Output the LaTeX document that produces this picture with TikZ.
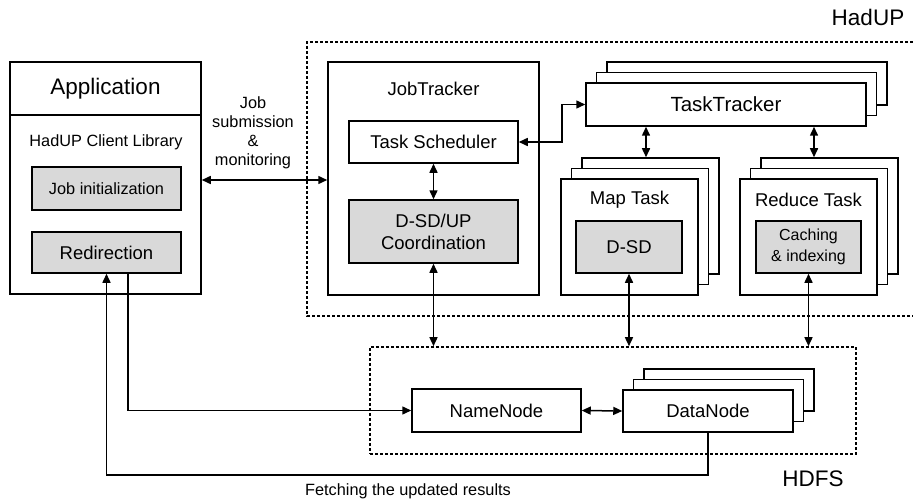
\documentclass[tikz,border=0pt]{standalone}
\usepackage{fontspec}
\setmainfont{Liberation Sans}
\usetikzlibrary{arrows.meta,shadows,calc}
\definecolor{boxgray}{RGB}{217,217,217}
\tikzset{
  box/.style 2 args={draw, line width=1.5pt, fill=white, inner sep=0pt,
    minimum width=#1, minimum height=#2, align=center},
  graybox/.style={fill=boxgray},
  stack/.style={
    general shadow={shadow xshift=21pt,shadow yshift=21pt,fill=white,draw,line width=1.5pt},
    general shadow={shadow xshift=10.5pt,shadow yshift=10.5pt,fill=white,draw,line width=1.5pt}},
  dashbox/.style={draw, line width=1.6pt, dash pattern=on 3pt off 2pt},
  conn/.style={line width=1.5pt},
  dbl/.style={conn, {Triangle[length=9pt,width=8pt]}-{Triangle[length=9pt,width=8pt]}},
  one/.style={conn, -{Triangle[length=9pt,width=8pt]}},
  fbig/.style={font=\fontsize{22.5}{26}\selectfont},
  fmid/.style={font=\fontsize{18.5}{22}\selectfont},
  fsmall/.style={font=\fontsize{16.3}{19}\selectfont},
  ftiny/.style={font=\fontsize{16.3}{19}\selectfont},
}
\begin{document}
\begin{tikzpicture}[x=1pt,y=-1pt]
\useasboundingbox (0,0) rectangle (913,500);

% dashed group frames
\draw[dashbox] (913,42) -| (307,316) -- (913,316);
\node[dashbox, inner sep=0pt, minimum width=486pt, minimum height=107pt] (hdfs) at (613,400.5) {};
\node[fbig] (hadup) at (868,17) {HadUP};
\node[fbig] (hdfslabel) at (813,479) {HDFS};

% Application
\node[box={191pt}{53pt}, fbig] (apptitle) at (105.5,88.5) {Application};
\node[box={191pt}{179pt}] (appbody) at (105.5,204.5) {};
\node[fsmall] (clientlib) at (106,142) {HadUP Client Library};
\node[box={149pt}{43pt}, graybox, fsmall] (jobinit) at (106.5,188.5) {Job initialization};
\node[box={149pt}{41pt}, graybox, fmid] (redir) at (106.5,252.5) {Redirection};

\node[fsmall, align=center] (jobsub) at (253,133) {Job\\submission\\\&\\monitoring};

% JobTracker
\node[box={211pt}{233pt}] (jobtracker) at (433.5,178.5) {};
\node[fmid] (jtlabel) at (433.5,89) {JobTracker};
\node[box={169pt}{42pt}, fmid] (sched) at (433.5,142) {Task Scheduler};
\node[box={169pt}{63pt}, graybox, fmid] (coord) at (433.5,231.5) {D-SD/UP\\Coordination};

% TaskTracker
\node[box={280pt}{43pt}, stack, font=\fontsize{20.5}{24}\selectfont] (tt) at (726,104.5) {TaskTracker};

% Map Task
\node[box={137pt}{116pt}, stack] (map) at (629.5,237) {};
\node[fmid] (maplabel) at (629.5,200) {Map Task};
\node[box={106pt}{52pt}, graybox, fmid] (dsd) at (629,247) {D-SD};

% Reduce Task
\node[box={137pt}{116pt}, stack] (reduce) at (808.5,237) {};
\node[fmid] (redlabel) at (808.5,200) {Reduce Task};
\node[box={105pt}{52pt}, graybox, font=\fontsize{16}{21}\selectfont] (cache) at (808.5,247) {Caching\\\& indexing};

% HDFS nodes
\node[box={169pt}{43pt}, fmid] (namenode) at (496.5,410.5) {NameNode};
\node[box={170pt}{42pt}, stack, fmid] (datanode) at (708,411) {DataNode};

\node[ftiny] (fetch) at (408,491) {Fetching the updated results};

% connectors
\draw[dbl] (appbody.east |- 0,180) -- (jobtracker.west |- 0,180);
\draw[dbl] (sched.south) -- (coord.north);
\draw[dbl] (sched.east) -- ++(43,0) |- (tt.west);
\draw[dbl] ([xshift=16.5pt]map.north |- tt.south) -- ([xshift=16.5pt,yshift=21pt]map.north);
\draw[dbl] ([xshift=5.5pt]reduce.north |- tt.south) -- ([xshift=5.5pt,yshift=21pt]reduce.north);
\draw[dbl] (coord.south) -- (coord.south |- hdfs.north);
\draw[dbl] (dsd.south) -- (dsd.south |- hdfs.north);
\draw[dbl] (cache.south) -- (cache.south |- hdfs.north);
\draw[dbl] (namenode.east) -- (datanode.west);
\draw[one] ([xshift=21.5pt]redir.south) |- (namenode.west);
\draw[one] (datanode.south) -- ++(0,42) -| (redir.south);
\end{tikzpicture}
\end{document}
